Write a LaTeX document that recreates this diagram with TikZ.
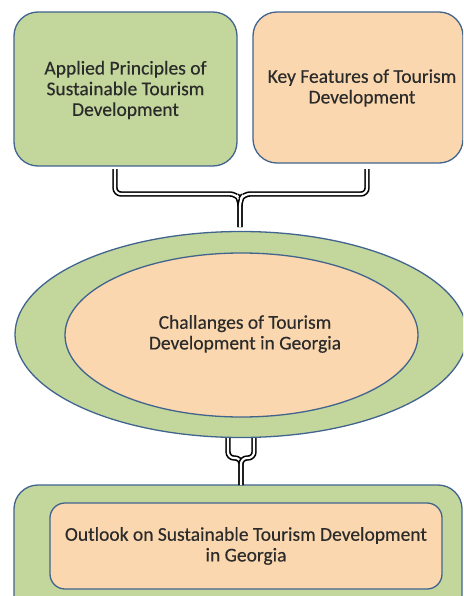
\documentclass[tikz,border=0pt]{standalone}
\usepackage{fontspec}
\setmainfont{Carlito}
\newfontfamily\lblfont[FakeBold=0.35]{Carlito}
\usetikzlibrary{shapes.geometric}
\definecolor{lgreen}{HTML}{C3D69B}
\definecolor{peach}{HTML}{FAD7AE}
\definecolor{bblue}{HTML}{41648F}
\definecolor{txt}{HTML}{2B2B2B}
\tikzset{
  box/.style={draw=bblue, line width=1.3pt, rounded corners=24pt, inner sep=0pt},
  lbl/.style={text=txt, font=\lblfont\fontsize{19.5}{20.7}\selectfont, align=center},
  conn/.style={draw=black, line width=1.6pt, double=white, double distance=2.2pt, rounded corners=6pt},
}
\begin{document}
\begin{tikzpicture}[x=1pt,y=1pt]
\useasboundingbox (0,0) rectangle (463,-596);
\clip (0,0) rectangle (463,-596);
% top boxes
\node[box, fill=lgreen, minimum width=223pt, minimum height=154pt] (b1) at (125.5,-89) {};
\node[lbl] (t1) at (125.5,-90) {Applied Principles of\\Sustainable Tourism\\Development};
\node[box, fill=peach, minimum width=210pt, minimum height=151pt] (b2) at (358,-87.5) {};
\node[lbl] (t2) at (362,-88) {Key Features of Tourism\\Development};
% ellipses
\node[ellipse, draw=bblue, line width=1.3pt, fill=lgreen, minimum width=452pt, minimum height=206pt, inner sep=0pt] (e1) at (241,-334.5) {};
\node[ellipse, draw=bblue, line width=1.3pt, fill=peach, minimum width=353pt, minimum height=164pt, inner sep=0pt] (e2) at (241.5,-335) {};
\node[lbl] (t3) at (245,-334) {Challanges of Tourism\\Development in Georgia};
% bottom boxes
\node[box, fill=lgreen, minimum width=448pt, minimum height=160pt] (b3) at (238,-565) {};
\node[box, fill=peach, rounded corners=15pt, minimum width=392pt, minimum height=86pt] (b4) at (246,-546) {};
\node[lbl] (t4) at (246,-546) {Outlook on Sustainable Tourism Development\\in Georgia};
% connectors
\coordinate (c1) at (115,-169);
\coordinate (c2) at (367,-169);
\coordinate (j1) at (240,-227);
\draw[conn] (c1) -- (115,-194) -- (236,-194) -- (240,-200) -- (j1);
\draw[conn] (c2) -- (367,-194) -- (244,-194) -- (240,-200) -- (j1);
\coordinate (d1) at (228,-438);
\coordinate (d2) at (254,-438);
\coordinate (j2) at (241,-485);
\draw[conn] (d1) -- (228,-458) -- (241,-458) -- (j2);
\draw[conn] (d2) -- (254,-458) -- (241,-458) -- (j2);
\end{tikzpicture}
\end{document}
